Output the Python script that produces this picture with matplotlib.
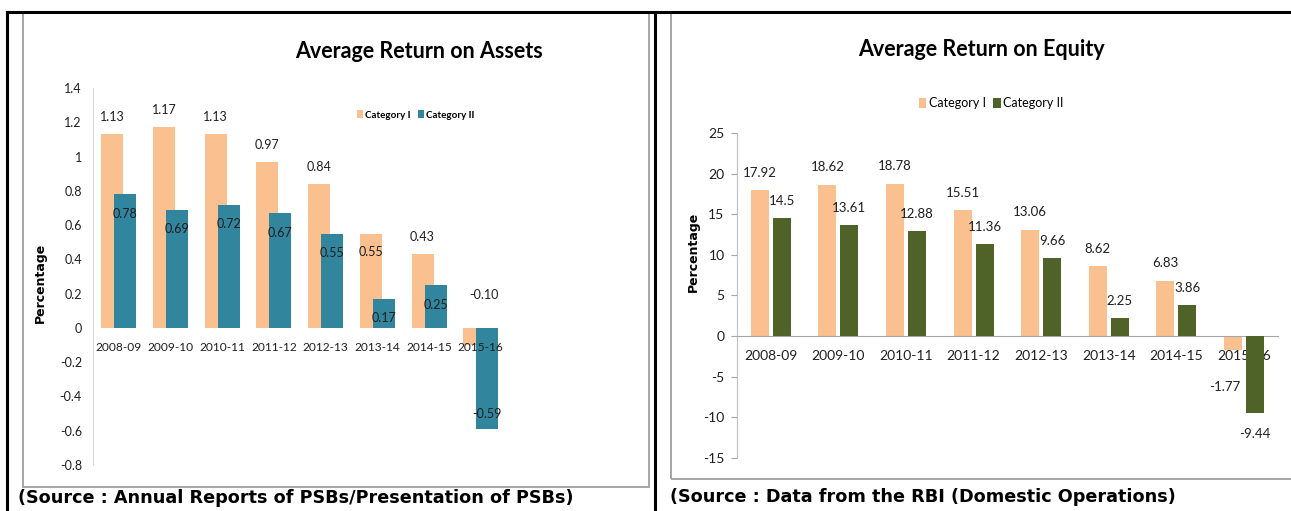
import matplotlib
matplotlib.use("Agg")
import matplotlib.pyplot as plt
from matplotlib.lines import Line2D
from matplotlib.patches import Rectangle
import numpy as np

# Dados
ANOS = ["2008-09", "2009-10", "2010-11", "2011-12", "2012-13", "2013-14", "2014-15", "2015-16"]
ROA_CAT1 = [1.13, 1.17, 1.13, 0.97, 0.84, 0.55, 0.43, -0.10]
ROA_CAT2 = [0.78, 0.69, 0.72, 0.67, 0.55, 0.17, 0.25, -0.59]
ROE_CAT1 = [17.92, 18.62, 18.78, 15.51, 13.06, 8.62, 6.83, -1.77]
ROE_CAT2 = [14.5, 13.61, 12.88, 11.36, 9.66, 2.25, 3.86, -9.44]
ROE_CAT2_TXT = ["14.5", "13.61", "12.88", "11.36", "9.66", "2.25", "3.86", "-9.44"]

LARANJA = "#FAC090"
AZUL = "#31859C"
VERDE = "#4F6228"
ESTREITA = "Lato"
TXT = "#1f1f1f"

plt.rcParams["axes.unicode_minus"] = False

W, H = 1291, 511
fig = plt.figure(figsize=(W / 100, H / 100), dpi=100)


def fx(px):
    return px / W


def fy(py):
    return 1 - py / H


# molduras (preto externo e cinza interno)
def linha(x0, y0, x1, y1, cor, lw):
    fig.add_artist(Line2D([fx(x0), fx(x1)], [fy(y0), fy(y1)], color=cor, lw=lw,
                          transform=fig.transFigure))


linha(6.7, 12, 1291, 12, "black", 2.2)
linha(6.7, 12, 6.7, 511, "black", 2.2)
linha(655, 12, 655, 511, "black", 2.2)
fig.add_artist(Rectangle((fx(22.7), fy(486.7)), fx(649) - fx(22.7), fy(13.5) - fy(486.7),
                         fill=False, ec="#A6A6A6", lw=1.4, transform=fig.transFigure))
fig.add_artist(Rectangle((fx(670.7), fy(479)), fx(1300) - fx(670.7), fy(13.5) - fy(479),
                         fill=False, ec="#A6A6A6", lw=1.4, transform=fig.transFigure))

x = np.arange(len(ANOS))

# ---------------- ROA ----------------
ax1 = fig.add_axes([fx(93), fy(465), fx(8 * 51.7), fy(88) - fy(465)])
w1, d1 = 0.425, 0.126
ax1.bar(x - d1, ROA_CAT1, w1, color=LARANJA, label="Category I", zorder=2)
ax1.bar(x + d1, ROA_CAT2, w1, color=AZUL, label="Category II", zorder=3)
ax1.set_xlim(-0.5, 7.5)
ax1.set_ylim(-0.8, 1.4)
ax1.set_yticks(np.arange(-0.8, 1.41, 0.2))
ax1.set_yticklabels(["-0.8", "-0.6", "-0.4", "-0.2", "0", "0.2", "0.4", "0.6", "0.8", "1", "1.2", "1.4"])
ax1.set_xticks(x)
ax1.set_xticklabels(ANOS)
for s in ["top", "right"]:
    ax1.spines[s].set_visible(False)
ax1.spines["bottom"].set_position(("data", 0))
ax1.spines["bottom"].set_visible(False)
ax1.spines["left"].set_color("#D9D9D9")
ax1.xaxis.set_zorder(6)  # rótulos dos anos por cima das barras, como no original
ax1.tick_params(axis="y", length=0, pad=8, labelsize=9, labelcolor=TXT)
ax1.tick_params(axis="x", length=0, pad=10, labelsize=8.6, labelcolor=TXT)
for t in ax1.get_xticklabels() + ax1.get_yticklabels():
    t.set_family(ESTREITA)

for i, v in enumerate(ROA_CAT1):
    yy = v + 0.10 if v > 0 else 0.19
    if i == 5:
        yy = v - 0.105  # rótulo ficou dentro da barra no original
    ax1.text(i - d1 + (0.18 if v < 0 else 0), yy, f"{v:.2f}", ha="center", va="center",
             fontsize=9, family=ESTREITA, color=TXT, zorder=5)
for i, v in enumerate(ROA_CAT2):
    yy = v - 0.115 if v > 0 else v + 0.09
    ax1.text(i + d1, yy, f"{v:.2f}", ha="center", va="center",
             fontsize=9, family=ESTREITA, color=TXT, zorder=5)

ax1.legend(loc="center", bbox_to_anchor=(fx(416), fy(115)), bbox_transform=fig.transFigure,
           ncol=2, frameon=False, handlelength=0.6, handleheight=0.9, handletextpad=0.2,
           columnspacing=0.8, prop={"family": ESTREITA, "size": 7, "weight": "bold"})

fig.text(fx(419), fy(52), "Average Return on Assets", ha="center", va="center",
         fontsize=15.5, fontweight="bold", family=ESTREITA)
fig.text(fx(40), fy(283), "Percentage", rotation=90, ha="center", va="center",
         fontsize=9, fontweight="bold", family="DejaVu Sans")
fig.text(fx(18), fy(498), "(Source : Annual Reports of PSBs/Presentation of PSBs)",
         ha="left", va="center", fontsize=12.7, fontweight="bold", family="DejaVu Sans")

# ---------------- ROE ----------------
ax2 = fig.add_axes([fx(737), fy(457.8), fx(8 * 67.6), fy(133) - fy(457.8)])
w2, d2 = 0.266, 0.163
ax2.bar(x - d2, ROE_CAT1, w2, color=LARANJA, label="Category I", zorder=2)
ax2.bar(x + d2, ROE_CAT2, w2, color=VERDE, label="Category II", zorder=3)
ax2.set_xlim(-0.5, 7.5)
ax2.set_ylim(-15, 25)
ax2.set_yticks(np.arange(-15, 26, 5))
ax2.set_xticks(x)
ax2.set_xticklabels(ANOS)
for s in ["top", "right"]:
    ax2.spines[s].set_visible(False)
ax2.spines["bottom"].set_position(("data", 0))
ax2.spines["bottom"].set_color("#A6A6A6")
ax2.spines["left"].set_color("#BFBFBF")
ax2.tick_params(axis="y", length=4, width=0.8, color="#A6A6A6", pad=5, labelsize=10, labelcolor=TXT)
ax2.tick_params(axis="x", length=0, pad=10, labelsize=10, labelcolor=TXT)
for t in ax2.get_xticklabels() + ax2.get_yticklabels():
    t.set_family(ESTREITA)

for i, v in enumerate(ROE_CAT1):
    if v > 0:
        ax2.text(i - d2, v + 2.15, f"{v:.2f}", ha="center", va="center",
                 fontsize=9.5, family=ESTREITA, color=TXT, zorder=5)
    else:
        ax2.text(i - d2 - 0.12, v - 4.5, f"{v:.2f}", ha="center", va="center",
                 fontsize=9.5, family=ESTREITA, color=TXT, zorder=5)
for i, v in enumerate(ROE_CAT2):
    yy = v + 2.1 if v > 0 else v - 2.6
    ax2.text(i + d2, yy, ROE_CAT2_TXT[i], ha="center", va="center",
             fontsize=9.5, family=ESTREITA, color=TXT, zorder=5)

ax2.legend(loc="center", bbox_to_anchor=(fx(991), fy(103)), bbox_transform=fig.transFigure,
           ncol=2, frameon=False, handlelength=0.6, handleheight=0.9, handletextpad=0.2,
           columnspacing=0.6, prop={"family": ESTREITA, "size": 9})

fig.text(fx(981), fy(50), "Average Return on Equity", ha="center", va="center",
         fontsize=15.5, fontweight="bold", family=ESTREITA)
fig.text(fx(693), fy(252), "Percentage", rotation=90, ha="center", va="center",
         fontsize=9, fontweight="bold", family="DejaVu Sans")
fig.text(fx(670), fy(497), "(Source : Data from the RBI (Domestic Operations)",
         ha="left", va="center", fontsize=12.7, fontweight="bold", family="DejaVu Sans")

fig.savefig("out.png", dpi=100)
